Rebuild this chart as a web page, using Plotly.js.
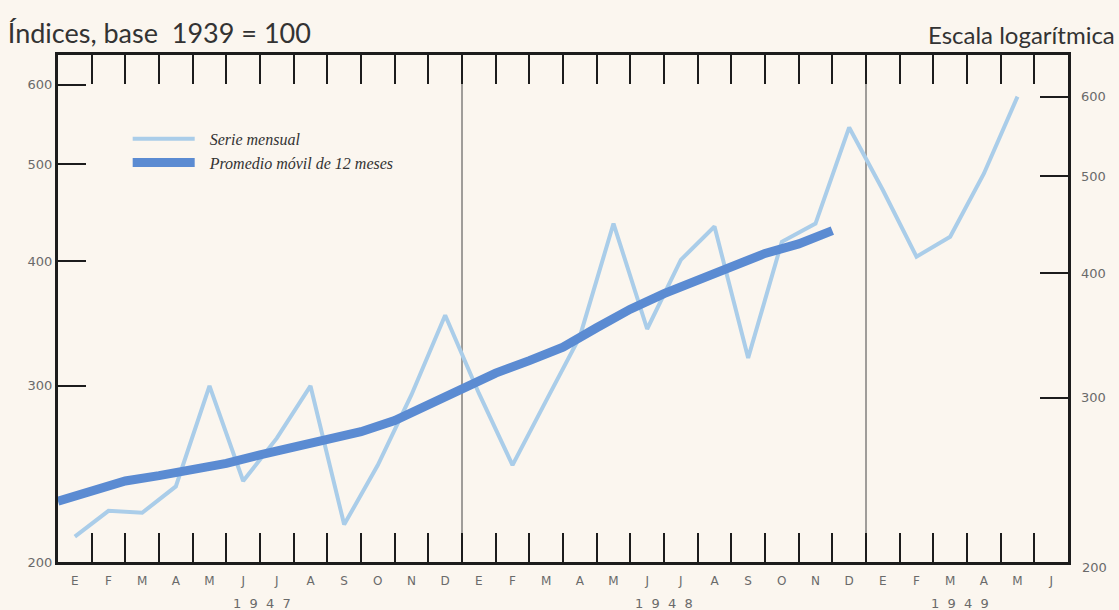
<!DOCTYPE html>
<html>
<head>
<meta charset="utf-8">
<script src="https://cdn.plot.ly/plotly-3.0.1.min.js"></script>
<style>
  html, body { margin: 0; padding: 0; background: #fbf6ef; }
  #chart { width: 1119px; height: 610px; }
</style>
</head>
<body>
<div id="chart"></div>
<script>
// Month initials (Spanish), Jan 1947 .. Jun 1949
const monthLabels = ['E','F','M','A','M','J','J','A','S','O','N','D',
                     'E','F','M','A','M','J','J','A','S','O','N','D',
                     'E','F','M','A','M','J'];
const years = ['1  9  4  7', '1  9  4  8', '1  9  4  9'];
const yearCenters = [5.55, 17.5, 26.3];

// Monthly series (index, base 1939 = 100), Jan 1947 .. May 1949
const serieMensual = [212, 225, 224, 238, 300, 241, 266, 300, 218, 250, 294, 353,
                      295, 250, 290, 336, 436, 342, 401, 433, 320, 418, 436, 544,
                      471, 404, 423, 489, 584];

// 12-month centred moving average (falls between months), Dec/Jan 1947 .. Nov/Dec 1948
const promedioMovil = [230, 236, 241, 244, 247, 251, 256, 261, 265, 270, 277, 287,
                       299, 309, 318, 328, 343, 358, 371, 383, 395, 407, 416, 429];

const yTicks = [200, 300, 400, 500, 600];
const yTicksRight = [300, 400, 500, 600];

const monthIdx = monthLabels.map((_, i) => i);
const boundaries = monthLabels.slice(1).map((_, i) => i + 0.5);
const xMensual = serieMensual.map((_, i) => i);
const xPromedio = promedioMovil.map((_, i) => i - 0.5);

const ink = '#1c1c1c';
const grey = '#6a6a6a';
const bg = '#fbf6ef';
const headFont = 'Lato, DejaVu Sans';

const traces = [
  {
    x: xMensual, y: serieMensual, type: 'scatter', mode: 'lines',
    name: 'Serie mensual',
    line: { color: '#aacde9', width: 4 },
    hoverinfo: 'skip'
  },
  {
    x: xPromedio, y: promedioMovil, type: 'scatter', mode: 'lines',
    name: 'Promedio móvil de 12 meses',
    line: { color: '#5b8bd2', width: 9 },
    hoverinfo: 'skip'
  },
  {
    // carries the right-hand scale only
    x: [], y: [], type: 'scatter', mode: 'lines', yaxis: 'y2',
    showlegend: false, hoverinfo: 'skip'
  }
];

const annotations = years.map((t, i) => ({
  text: t, xref: 'x', x: yearCenters[i], yref: 'paper', y: -0.081,
  yanchor: 'middle', xanchor: 'center', showarrow: false,
  font: { family: 'DejaVu Sans', size: 13, color: grey }
}));
annotations.push({
  text: 'Escala logarítmica', xref: 'paper', x: 1.0485, xanchor: 'right',
  yref: 'paper', y: 1.04, yanchor: 'middle', showarrow: false,
  font: { family: headFont, size: 24, color: '#333' }
});
annotations.push({
  text: '200', xref: 'paper', x: 1, xanchor: 'left', xshift: 12,
  yref: 'paper', y: -0.01, yanchor: 'middle', showarrow: false,
  font: { family: 'DejaVu Sans', size: 13, color: grey }
});

const shapes = [11.5, 23.5].map(v => ({
  type: 'line', xref: 'x', x0: v, x1: v, yref: 'paper', y0: 0, y1: 1,
  line: { color: '#444', width: 1 }, layer: 'below'
}));

const layout = {
  width: 1119, height: 610,
  margin: { l: 58, r: 51, t: 55, b: 48 },
  paper_bgcolor: bg, plot_bgcolor: bg,
  title: {
    text: 'Índices, base  1939 = 100',
    x: 0.007, xanchor: 'left', y: 0.945, yanchor: 'middle',
    font: { family: headFont, size: 27, color: '#333' }
  },
  showlegend: true,
  legend: {
    x: 0.069, xanchor: 'left', y: 0.868, yanchor: 'top',
    bgcolor: 'rgba(0,0,0,0)', itemwidth: 72, tracegroupgap: 0,
    font: { family: 'Liberation Serif', style: 'italic', size: 16, color: '#333' }
  },
  xaxis: {
    range: [-0.5, 29.5], tickmode: 'array', tickvals: monthIdx, ticktext: monthLabels,
    ticks: '', showgrid: false, zeroline: false, ticklabelstandoff: 6,
    showline: true, linewidth: 3, linecolor: ink, mirror: 'ticks',
    tickfont: { family: 'DejaVu Sans', size: 12, color: grey },
    minor: { tickmode: 'array', tickvals: boundaries, ticks: 'inside', ticklen: 29,
             tickwidth: 2, tickcolor: ink, showgrid: false }
  },
  yaxis: {
    type: 'log', range: [2.30103, 2.80803], tickmode: 'array', tickvals: yTicks,
    ticktext: yTicks.map(String),
    ticks: 'inside', ticklen: 28, tickwidth: 2, tickcolor: ink,
    showgrid: false, zeroline: false,
    showline: true, linewidth: 3, linecolor: ink, mirror: true,
    tickfont: { family: 'DejaVu Sans', size: 13, color: grey }
  },
  yaxis2: {
    type: 'log', overlaying: 'y', side: 'right', range: [2.31303, 2.82003],
    tickmode: 'array', tickvals: yTicksRight, ticktext: yTicksRight.map(String),
    ticks: 'inside', ticklen: 28, tickwidth: 2, tickcolor: ink,
    showgrid: false, zeroline: false, showline: false, ticklabelstandoff: 12,
    tickfont: { family: 'DejaVu Sans', size: 13, color: grey }
  },
  annotations: annotations,
  shapes: shapes
};

Plotly.newPlot('chart', traces, layout, { displayModeBar: false, staticPlot: true }).then(() => {
  document.querySelectorAll('#chart .legend .legendlines path').forEach(p => {
    p.setAttribute('d', 'M5,0h62');
  });
});
</script>
</body>
</html>
